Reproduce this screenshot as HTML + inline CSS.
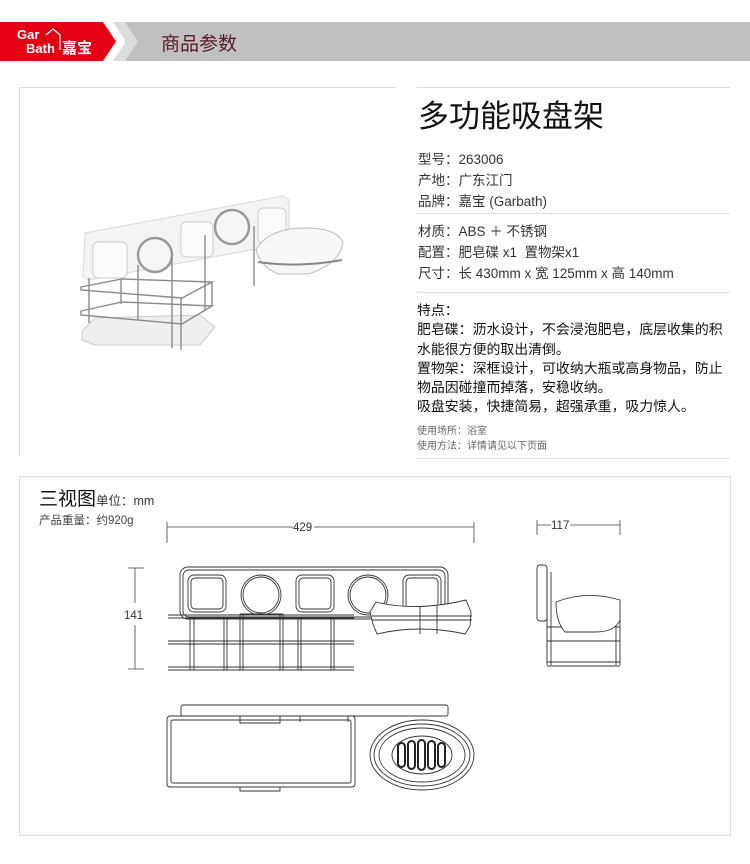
<!DOCTYPE html>
<html><head><meta charset="utf-8"><style>
body{margin:0;width:750px;height:864px;background:#fff;position:relative;overflow:hidden;font-family:"Liberation Sans","Noto Sans CJK SC",sans-serif;}
.a{position:absolute;white-space:nowrap}
.t{font-size:13.5px;color:#333}
</style></head><body>
<svg class="a" style="left:0;top:0" width="750" height="70">
<rect x="125" y="22" width="625" height="39" fill="#c0c0c2"/>
<polygon points="113,22 125,22 138,41.5 125,61 113,61 126,41.5" fill="#dcdcde"/>
<polygon points="0,22 103,22 116,41.5 103,61 0,61" fill="#e30012"/>
<text x="17" y="39" font-size="13" font-weight="bold" fill="#fff" font-family="Liberation Sans">Gar</text>
<text x="26" y="53" font-size="13" font-weight="bold" fill="#fff" font-family="Liberation Sans">Bath</text>
<polyline points="46,35 53,29 60,35 60,50" fill="none" stroke="#fff" stroke-width="1.3"/>
<text x="62" y="53" font-size="15" font-weight="bold" fill="#fff" font-family="Noto Sans CJK SC">嘉宝</text>
</svg>
<div class="a" style="left:161px;top:29px;font-size:19px;color:#5a1a22">商品参数</div>
<div class="a" style="left:19px;top:87px;width:376px;height:368px;border:1px solid #ddd;border-right:none;border-bottom:none"></div>
<svg class="a" style="left:0;top:0" width="400" height="460">
<polygon points="85,233 283,196 289,200 289,243 88,280 83,276" fill="#f4f4f4" stroke="#d8d8d8"/>
<rect x="93" y="242" width="34" height="36" rx="5" fill="#fbfbfb" stroke="#ccc"/>
<circle cx="155" cy="255" r="17" fill="#f6f6f6" stroke="#999" stroke-width="2.5"/>
<rect x="181" y="222" width="32" height="35" rx="5" fill="#fbfbfb" stroke="#ccc"/>
<circle cx="232" cy="227" r="17" fill="#f6f6f6" stroke="#999" stroke-width="2.5"/>
<rect x="258" y="208" width="28" height="36" rx="5" fill="#fbfbfb" stroke="#ccc"/>
<path d="M256 250 q12 -22 50 -22 q30 0 37 14 q-3 22 -35 32 h-30 q-18 -8 -22 -24z" fill="#f8f8f8" stroke="#bbb"/>
<path d="M258 262 q40 6 84 -2" stroke="#888" stroke-width="2" fill="none"/>
<polygon points="82,331 95,318 200,315 215,327 200,345 95,345 82,340" fill="#efefef" stroke="#ccc"/>
<g fill="none" stroke="#8a8a8a" stroke-width="1.4">
<path d="M81 287 L122 279 L212 282 L182 298 L81 290Z"/>
<path d="M81 311 L122 302 L212 306 L182 324 L81 315Z"/>
<path d="M89 278v45 M121 280v24 M181 298v52 M212 282v25 M172 258v90 M138 265v55 M205 235v75 M254 226v60"/>
</g>
</svg>
<div class="a" style="left:417px;top:87px;width:313px;border-top:1px solid #ddd"></div>
<div class="a" style="left:418px;top:91px;font-size:31px;color:#111">多功能吸盘架</div>
<div class="a t" style="left:418px;top:149px;line-height:21px">型号：263006<br>产地：广东江门<br>品牌：嘉宝 (Garbath)</div>
<div class="a" style="left:417px;top:213px;width:313px;border-top:1px solid #ddd"></div>
<div class="a t" style="left:418px;top:221px;line-height:21px">材质：ABS ＋ 不锈钢<br>配置：肥皂碟 x1&nbsp; 置物架x1<br>尺寸：长 430mm x 宽 125mm x 高 140mm</div>
<div class="a" style="left:417px;top:292px;width:313px;border-top:1px solid #ddd"></div>
<div class="a" style="left:417px;top:301px;font-size:13.9px;color:#111;line-height:19.3px">特点：<br>肥皂碟：沥水设计，不会浸泡肥皂，底层收集的积<br>水能很方便的取出清倒。<br>置物架：深框设计，可收纳大瓶或高身物品，防止<br>物品因碰撞而掉落，安稳收纳。<br>吸盘安装，快捷简易，超强承重，吸力惊人。</div>
<div class="a" style="left:417px;top:424px;font-size:10px;color:#666;line-height:15px">使用场所：浴室<br>使用方法：详情请见以下页面</div>
<div class="a" style="left:417px;top:458px;width:313px;border-top:1px solid #ddd"></div>
<div class="a" style="left:19px;top:476px;width:710px;height:358px;border:1px solid #ddd"></div>
<div class="a" style="left:39px;top:484px;font-size:19px;color:#111">三视图<span style="font-size:12.5px;color:#333">单位：mm</span></div>
<div class="a" style="left:39px;top:512px;font-size:11.5px;color:#444">产品重量：约920g</div>
<svg class="a" style="left:0;top:0" width="750" height="864" font-family="Liberation Sans" font-size="11.5" fill="#333">
<g stroke="#444" stroke-width="0.8" fill="none">
<path d="M167 522v21 M474 522v21 M167 527h126 M314 527h160 M537 520v15 M620 520v15 M537 525h14 M570 525h50 M128 568h16 M128 669h16 M135 568v35 M135 625v44"/>
</g>
<text x="293" y="531">429</text><text x="551" y="529">117</text><text x="124" y="619">141</text>
<g stroke="#333" stroke-width="0.9" fill="none">
<rect x="180" y="567" width="268" height="52" rx="8"/><rect x="183" y="570" width="262" height="47" rx="6"/>
<rect x="188" y="575" width="38" height="37" rx="6"/><rect x="191" y="578" width="32" height="31" rx="4"/>
<rect x="296" y="575" width="38" height="37" rx="6"/><rect x="299" y="578" width="32" height="31" rx="4"/>
<rect x="403" y="575" width="38" height="37" rx="6"/><rect x="406" y="578" width="32" height="31" rx="4"/>
<circle cx="261" cy="595" r="20"/><circle cx="261" cy="595" r="18"/>
<circle cx="368" cy="595" r="20"/><circle cx="368" cy="595" r="18"/>
<path d="M168 615h186 M168 618h186 M168 641h186 M168 644h186 M168 667h186 M168 670h186"/>
<path d="M190 618v52 M194 618v52 M224 618v52 M227 618v52 M240 614v56 M243 614v56 M280 614v56 M283 614v56 M298 618v52 M301 618v52 M331 618v52 M334 618v52"/>
<path d="M240 614h43"/>
<path d="M376 602 q40 10 90 -2 l5 12 l-1 14 l-5 8 q-45 -10 -88 0 l-4 -10 l-3 -12z" fill="#fff"/>
<path d="M372 616h100 M372 620h100 M420 606v28 M437 606v28"/>
<rect x="537" y="565" width="10" height="56" rx="3"/>
<path d="M547 570v95 M551 572v93 M620 610v55 M616 612v53 M547 627h73 M547 641h73 M547 662h73 M547 666h73"/>
<path d="M556 602 q30 -12 64 -2 v20 q-5 12 -25 12 h-30 q-9 -10 -9 -30z" fill="#fff"/>
<rect x="181" y="705" width="267" height="11" rx="2"/>
<rect x="167" y="716" width="188" height="71" rx="3"/><rect x="171" y="720" width="180" height="63" rx="2"/>
<path d="M240 716v7 h40 v-7 M348 716v6 M300 716v6 M240 787v4 h40 v-4"/>
<ellipse cx="422" cy="755" rx="52" ry="35"/><ellipse cx="422" cy="755" rx="48" ry="31"/><ellipse cx="422" cy="755" rx="43" ry="27"/><ellipse cx="422" cy="755" rx="30" ry="19"/>
</g>
<g fill="#fff" stroke="#222" stroke-width="2">
<rect x="398" y="743" width="7" height="24" rx="3.5"/><rect x="408" y="741" width="7" height="28" rx="3.5"/><rect x="418" y="740" width="7" height="30" rx="3.5"/><rect x="428" y="741" width="7" height="28" rx="3.5"/><rect x="438" y="743" width="7" height="24" rx="3.5"/>
</g>
</svg>
</body></html>
